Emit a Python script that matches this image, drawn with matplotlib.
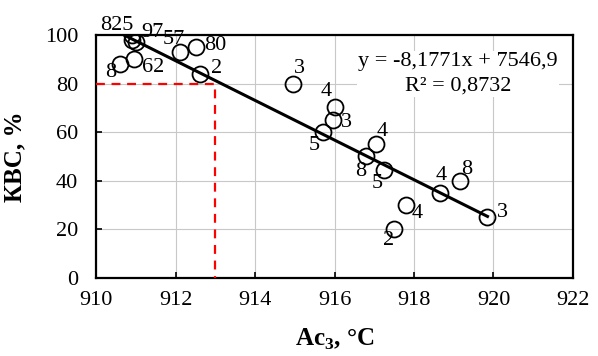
"""
КВС vs Ac3 scatter with linear trendline.
Saves out.png (598x356 px).
"""

import numpy as np
import matplotlib.pyplot as plt

plt.rcParams["font.family"] = ["Liberation Serif", "DejaVu Serif"]
plt.rcParams["mathtext.fontset"] = "custom"
plt.rcParams["mathtext.rm"] = "Liberation Serif"
plt.rcParams["mathtext.bf"] = "Liberation Serif:bold"

# data
ac3 = [910.9, 910.9, 911.0, 912.1, 912.5, 910.6, 910.95, 912.6, 914.95, 916.0,
       915.95, 915.7, 917.05, 916.8, 917.25, 918.65, 919.15, 917.8, 917.5, 919.85]
kvs = [100, 98, 97, 93, 95, 88, 90, 84, 80, 70.5,
       65, 60, 55, 50, 44.5, 35, 40, 30, 20, 25]
point_labels = ["825", "97", "", "57", "80", "8", "62", "2", "3", "4",
                "3", "5", "4", "8", "5", "4", "8", "4", "2", "3"]

slope, intercept, r2 = -8.1771, 7546.9, 0.8732
target_ac3, target_kvs = 913, 80

x_ticks = [910, 912, 914, 916, 918, 920, 922]
y_ticks = [0, 20, 40, 60, 80, 100]

# label placement (offset points from each marker)
label_offsets = [(-11, 7), (15, 5), (0, 0), (-4, 9), (14, 1), (-7, -6), (14, -6), (12, 4),
                 (5, 11), (-6, 11), (10, -2), (-6, -10), (4, 9), (-4, -11), (-5, -10),
                 (1, 12), (5, 8), (8, -6), (-4, -8), (11, 3)]

fig = plt.figure(figsize=(5.98, 3.56), dpi=100)
ax = fig.add_axes([0.161, 0.2205, 0.797, 0.681])

# red guide lines
ax.plot([910, target_ac3, target_ac3], [target_kvs, target_kvs, 0],
        color="#ff0000", lw=1.6, ls=(0, (4, 3)), zorder=3)

# trendline
xs = np.array([min(ac3), max(ac3)])
ax.plot(xs, slope * xs + intercept, color="black", lw=2.2, zorder=4)

ax.plot(ac3, kvs, ls="none", marker="o", ms=11.5, mfc="none", mec="black",
        mew=1.3, zorder=5)

for x, y, lab, off in zip(ac3, kvs, point_labels, label_offsets):
    if lab:
        ax.annotate(lab, (x, y), xytext=off, textcoords="offset points",
                    ha="center", va="center", fontsize=16, zorder=6)

ax.text(919.1, 84, f"y = {slope:.4f}x + {intercept:.1f}\nR² = {r2:.4f}".replace(".", ","),
        ha="center", va="center", fontsize=16, linespacing=1.35, zorder=2,
        bbox=dict(facecolor="white", edgecolor="none", pad=1))

ax.set_xlim(910, 922)
ax.set_ylim(0, 100)
ax.set_xticks(x_ticks)
ax.set_yticks(y_ticks)
ax.grid(True, color="#c8c8c8", lw=0.8, zorder=0)
ax.set_axisbelow(True)
ax.tick_params(direction="in", length=4, width=1.2, labelsize=16)
ax.tick_params(axis="x", pad=10)
ax.tick_params(axis="y", pad=13)
for s in ax.spines.values():
    s.set_linewidth(1.6)

ax.set_xlabel(r"Ac$_{\mathbf{3}}$, °C", fontsize=18, fontweight="bold")
ax.set_ylabel("КВС, %", fontsize=18, fontweight="bold")
ax.xaxis.set_label_coords(0.5, -0.205)
ax.yaxis.set_label_coords(-0.146, 0.5)

fig.savefig("out.png", dpi=100)
